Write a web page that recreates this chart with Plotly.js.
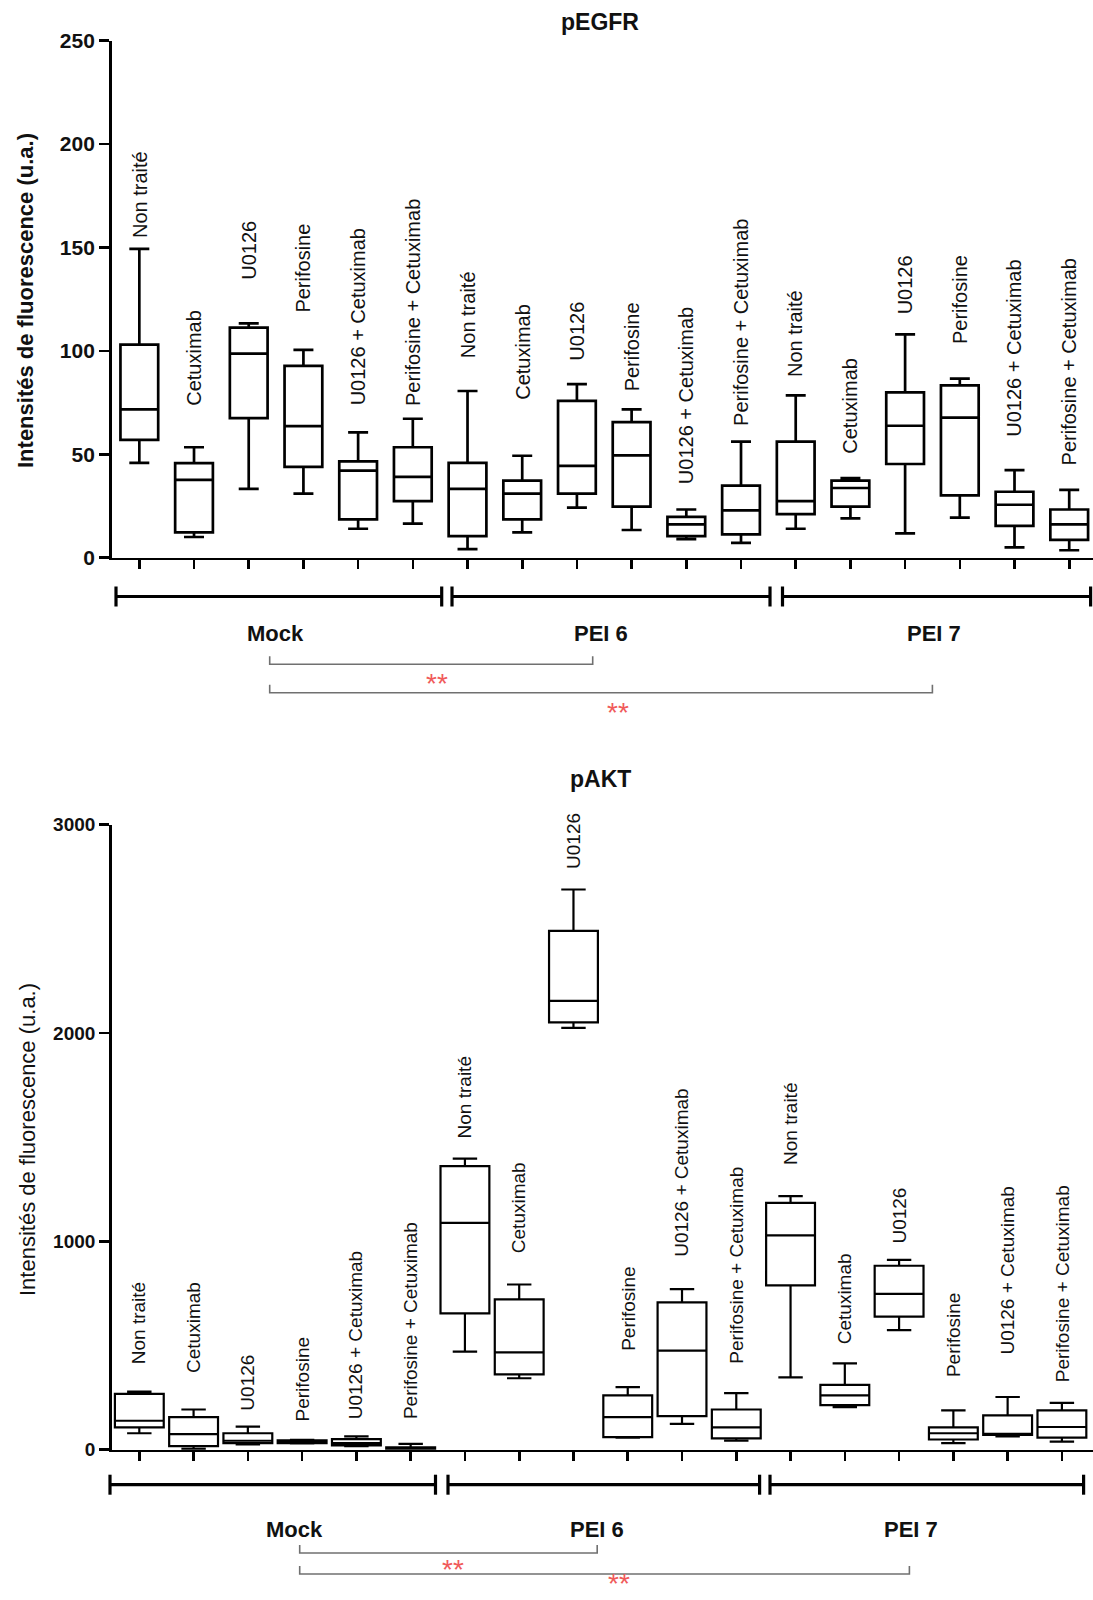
<!DOCTYPE html>
<html>
<head>
<meta charset="utf-8">
<script src="https://cdn.plot.ly/plotly-3.0.1.min.js"></script>
<style>html,body{margin:0;padding:0;background:#fff;}#chart{width:1093px;height:1600px;}</style>
</head>
<body>
<div id="chart"></div>
<script>
// ---------- DATA ----------
const treatments = ['Non traité', 'Cetuximab', 'U0126', 'Perifosine', 'U0126 + Cetuximab', 'Perifosine + Cetuximab'];
const groups = ['Mock', 'PEI 6', 'PEI 7'];
const categoryLabels = [].concat(treatments, treatments, treatments);

// pEGFR box statistics (Mock x6, PEI 6 x6, PEI 7 x6)
const egfrUpper  = [149.3, 53.4, 113.3, 100.5, 60.6, 67.2,  80.6, 49.3, 83.9, 71.7, 23.3, 56.1,  78.5, 38.5, 108.0, 86.6, 42.3, 32.8];
const egfrQ3     = [103.0, 45.7, 111.3,  92.8, 46.6, 53.4,  45.9, 37.3, 75.8, 65.6, 19.7, 34.9,  56.1, 37.3,  79.9, 83.3, 31.9, 23.3];
const egfrMedian = [ 71.7, 37.6,  98.7,  63.6, 42.1, 39.1,  33.3, 31.0, 44.4, 49.5, 16.1, 22.9,  27.4, 33.7,  63.8, 67.7, 25.6, 16.1];
const egfrQ1     = [ 57.0, 12.2,  67.5,  43.9, 18.5, 27.4,  10.4, 18.5, 31.0, 24.7, 10.4, 11.3,  21.1, 24.7,  45.3, 30.1, 15.4,  8.6];
const egfrLower  = [ 45.9, 10.0,  33.3,  31.0, 14.0, 16.5,   4.1, 12.2, 24.2, 13.4,  9.0,  7.2,  14.0, 19.0,  11.8, 19.4,  5.0,  3.6];

// pAKT box statistics
const aktUpper  = [279, 193, 111, 47, 64, 28,  1397, 793, 2689, 300, 771, 272,  1217, 414, 911, 189, 253, 225];
const aktQ3     = [268, 156,  79, 45, 51, 11,  1361, 722, 2490, 261, 707, 193,  1185, 311, 883, 107, 165, 189];
const aktMedian = [139,  75,  43, 39, 32,  6,  1089, 467, 2154, 156, 476, 107,  1029, 261, 748,  79,  75, 109];
const aktQ1     = [107,  17,  32, 32, 21,  4,   654, 362, 2051,  60, 161,  54,   789, 214, 639,  49,  71,  58];
const aktLower  = [ 79,   4,  26, 30, 17,  2,   471, 343, 2025,  58, 124,  43,   347, 204, 574,  32,  64,  39];

const egfrTicks = [0, 50, 100, 150, 200, 250];
const aktTicks = [0, 1000, 2000, 3000];

// ---------- LAYOUT HELPERS ----------
const W = 1093, H = 1600;
const px = p => p / W;
const py = p => 1 - p / H;
const FONT = 'Liberation Sans, Arial, Helvetica, sans-serif';
const positions = categoryLabels.map((_, i) => i);

// label baseline heights above each box (data units)
const egfrLabelBase = [154, 73, 134, 118, 73, 73,  96, 76, 95, 80, 35, 63,  87, 50, 117, 103, 58, 44];
const aktLabelBase  = [407, 364, 182, 129, 143, 143,  1489, 937, 2785, 471, 921, 407,  1360, 503, 985, 343, 450, 321];

const traces = [
  {
    type: 'box', xaxis: 'x', yaxis: 'y', x: positions,
    q1: egfrQ1, median: egfrMedian, q3: egfrQ3, lowerfence: egfrLower, upperfence: egfrUpper,
    width: 0.69, whiskerwidth: 0.53, boxpoints: false,
    fillcolor: 'rgba(255,255,255,0)', line: {color: '#000', width: 2.7},
    hoverinfo: 'skip', showlegend: false
  },
  {
    type: 'box', xaxis: 'x2', yaxis: 'y2', x: positions,
    q1: aktQ1, median: aktMedian, q3: aktQ3, lowerfence: aktLower, upperfence: aktUpper,
    width: 0.9, whiskerwidth: 0.5, boxpoints: false,
    fillcolor: 'rgba(255,255,255,0)', line: {color: '#000', width: 2.2},
    hoverinfo: 'skip', showlegend: false
  }
];

function yAxisCfg(domain, range, ticks, size) {
  return {
    domain: domain, range: range, tickmode: 'array', tickvals: ticks,
    showline: true, linecolor: '#000', linewidth: 2.6, ticks: 'outside', ticklen: 10,
    tickwidth: 2.6, tickcolor: '#000', showgrid: false, zeroline: false,
    tickfont: {family: FONT, size: size, color: '#111', weight: 'bold'}, fixedrange: true
  };
}
function xAxisCfg(domain, range, anchor) {
  return {
    domain: domain, range: range, anchor: anchor, tickmode: 'array', tickvals: positions,
    showticklabels: false, showline: true, linecolor: '#000', linewidth: 2.6,
    ticks: 'outside', ticklen: 9, tickwidth: 2.6, tickcolor: '#000',
    showgrid: false, zeroline: false, fixedrange: true
  };
}

const annotations = [];
const shapes = [];

// category labels
categoryLabels.forEach((lab, i) => {
  annotations.push({xref: 'x', yref: 'y', x: i, y: egfrLabelBase[i], text: lab, textangle: -90,
    xanchor: 'center', yanchor: 'bottom', showarrow: false, borderpad: 0,
    font: {family: FONT, size: 20, color: '#111'}});
  annotations.push({xref: 'x2', yref: 'y2', x: i, y: aktLabelBase[i], text: lab, textangle: -90,
    xanchor: 'center', yanchor: 'bottom', showarrow: false, borderpad: 0,
    font: {family: FONT, size: 19, color: '#111'}});
});

// titles
annotations.push({xref: 'paper', yref: 'paper', x: px(600), y: py(22), text: 'pEGFR', showarrow: false,
  xanchor: 'center', yanchor: 'middle', font: {family: FONT, size: 23, color: '#111', weight: 'bold'}});
annotations.push({xref: 'paper', yref: 'paper', x: px(600), y: py(779), text: 'pAKT', showarrow: false,
  xanchor: 'center', yanchor: 'middle', font: {family: FONT, size: 23, color: '#111', weight: 'bold'}});

// y axis titles
annotations.push({xref: 'paper', yref: 'paper', x: px(25), y: py(301), text: 'Intensités de fluorescence (u.a.)',
  textangle: -90, showarrow: false, xanchor: 'center', yanchor: 'middle',
  font: {family: FONT, size: 22, color: '#111', weight: 'bold'}});
annotations.push({xref: 'paper', yref: 'paper', x: px(27), y: py(1140), text: 'Intensités de fluorescence (u.a.)',
  textangle: -90, showarrow: false, xanchor: 'center', yanchor: 'middle',
  font: {family: FONT, size: 22, color: '#111', weight: 'normal'}});

// group bars, group labels, significance brackets
function groupBars(spans, yPix, labelXs, labelY, labelSize) {
  spans.forEach((s, k) => {
    shapes.push({type: 'line', xref: 'paper', yref: 'paper', x0: px(s[0]), x1: px(s[1]), y0: py(yPix), y1: py(yPix),
      line: {color: '#000', width: 3.2}});
    [s[0], s[1]].forEach(xe => {
      shapes.push({type: 'line', xref: 'paper', yref: 'paper', x0: px(xe), x1: px(xe), y0: py(yPix - 10), y1: py(yPix + 10),
        line: {color: '#000', width: 3.2}});
    });
    annotations.push({xref: 'paper', yref: 'paper', x: px(labelXs[k]), y: py(labelY), text: groups[k], showarrow: false,
      xanchor: 'center', yanchor: 'middle', font: {family: FONT, size: labelSize, color: '#111', weight: 'bold'}});
  });
}
function bracket(x0, x1, yPix, starX, starY, starAnchor) {
  shapes.push({type: 'path', xref: 'paper', yref: 'paper',
    path: 'M' + px(x0) + ',' + py(yPix - 8) + ' L' + px(x0) + ',' + py(yPix) + ' L' + px(x1) + ',' + py(yPix) + ' L' + px(x1) + ',' + py(yPix - 8),
    line: {color: '#707070', width: 1.6}});
  annotations.push({xref: 'paper', yref: 'paper', x: px(starX), y: py(starY), text: '**', showarrow: false,
    xanchor: 'center', yanchor: starAnchor || 'middle', borderpad: 0, font: {family: FONT, size: 28, color: '#f05a5a'}});
}

groupBars([[116, 441.7], [452, 770], [782.5, 1090.6]], 596.5, [275, 600.7, 933.8], 633, 22);
bracket(269.7, 592.7, 664.3, 436.7, 683);
bracket(269.7, 932.4, 692.7, 617.5, 712);

groupBars([[110, 435.5], [448, 759.6], [770, 1083.6]], 1484.7, [294.8, 597, 910.8], 1529, 22);
bracket(299.7, 597.2, 1553, 453, 1569);
bracket(299.7, 909.4, 1574, 618.8, 1600, 'bottom');

const layout = {
  width: W, height: H, margin: {l: 0, r: 0, t: 0, b: 0},
  paper_bgcolor: '#fff', plot_bgcolor: 'rgba(0,0,0,0)', showlegend: false,
  xaxis: xAxisCfg([px(111.7), 1], [-0.505, 17.435], 'y'),
  yaxis: yAxisCfg([py(557.7), py(40.7)], [0, 250], egfrTicks, 21),
  xaxis2: xAxisCfg([px(111.8), 1], [-0.507, 17.573], 'y2'),
  yaxis2: Object.assign(yAxisCfg([py(1449.7), py(824.7)], [0, 3000], aktTicks, 19), {anchor: 'x2'}),
  annotations: annotations, shapes: shapes
};
layout.yaxis.anchor = 'x';

Plotly.newPlot('chart', traces, layout, {staticPlot: true, displayModeBar: false});
</script>
</body>
</html>
